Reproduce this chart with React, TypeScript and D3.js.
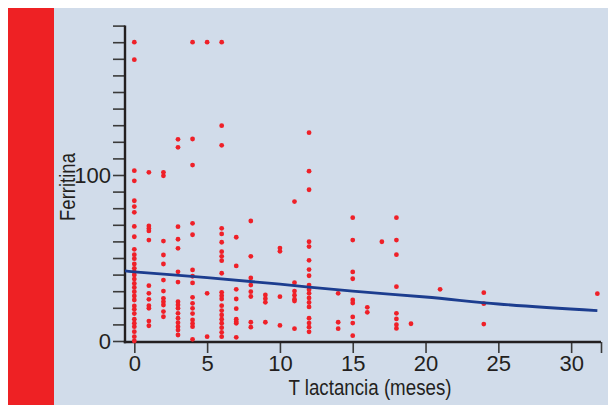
import { useEffect, useRef } from 'react'
import * as d3 from 'd3'

// months of lactation (x) and ferritin values read per column (y)
const meses = [0, 1, 2, 3, 4, 5, 6, 7, 8, 9, 10, 11, 12, 14, 15, 16, 17, 18, 19, 21, 24, 31.8]
const ferritina: number[][] = [
  [180, 169.5, 102.6, 96.5, 84.5, 81, 77.5, 69, 62.8, 55.2, 52, 49.6, 46.4, 43.8, 41.7, 39.8, 37.3, 34.7, 32.3, 29.7, 27.1, 24.7, 21.1, 19.1, 16.5, 13.1, 10.7, 8.6, 5.6, 2.6, 0],
  [101.6, 69.3, 67.7, 66.3, 60.8, 33.3, 28.7, 25.1, 21.3, 19.7, 12, 9.2],
  [101.6, 99.5, 60.2, 51.8, 46.4, 36.7, 30.1, 25.7, 23.7, 21.7, 17.7, 14.6],
  [121.5, 116.7, 68.9, 61.3, 55.8, 41.7, 35.5, 23.7, 21.7, 19.7, 16.7, 13.7, 11, 8.6, 6.6, 3.6],
  [180, 121.7, 106, 70.9, 64, 42.8, 39, 35, 26.3, 22.7, 19.7, 16.5, 12.7, 10.5, 8.6, 1],
  [180, 28.7, 2.6],
  [180, 129.7, 117.9, 67.9, 64.5, 59.5, 53.8, 51, 48.4, 40.8, 29.3, 27.3, 25.3, 21.3, 18.3, 15.7, 13.1, 10.7, 8, 5.2, 2.6],
  [62.5, 45.2, 31.1, 25.3, 19.5, 13.1, 11.6, 10.7, 2.2],
  [72.3, 51, 38, 33.7, 29.7, 26.8, 11.3, 8.3],
  [27.7, 25.5, 23.3, 11.3],
  [56, 54, 26.7, 9.4],
  [84, 35.1, 30.1, 27.6, 25.2, 24.1, 7.4],
  [125.5, 102.3, 91.1, 59.8, 56.9, 48.6, 43, 39.3, 33.7, 32.2, 30.9, 28.7, 25.9, 23.2, 20.5, 13.7, 10.8, 8.3, 5.5],
  [28.7, 11.3, 7.4],
  [74.3, 60.8, 41.6, 37.5, 24.7, 22.9, 14.5, 10.8, 3.2],
  [20.3, 17.3],
  [59.8],
  [74.3, 60.8, 52, 32.7, 16.7, 13.3, 9.8, 7.6],
  [10.4],
  [31.1],
  [29.1, 22.5, 10.2],
  [28.5],
]

// fitted curve
const ajusteX = [-0.64, 0, 5, 10, 15, 20, 25, 31.8]
const ajusteY = [42.2, 41.7, 38.2, 34.2, 30.0, 26.5, 22.3, 18.3]

const xTicks = [0, 5, 10, 15, 20, 25, 30]
const yTicks = d3.range(0, 191, 10)
const yLabels = [0, 100]

const FONT = "'Liberation Sans Narrow', 'Liberation Sans', Arial, sans-serif"
const INK = '#231f20'

export default function App() {
  const svgRef = useRef<SVGSVGElement>(null)

  useEffect(() => {
    if (!svgRef.current) return
    const svg = d3.select(svgRef.current)
    svg.selectAll('*').remove()

    const x = d3.scaleLinear().domain([-0.64, 32.05]).range([125, 601])
    const y = d3.scaleLinear().domain([0, 190]).range([341, 25.6])

    // panels
    svg.append('rect').attr('x', 0).attr('y', 0).attr('width', 608).attr('height', 405).attr('fill', '#fff')
    svg.append('rect').attr('x', 8).attr('y', 8).attr('width', 46).attr('height', 397).attr('fill', '#ee2124')
    svg.append('rect').attr('x', 54).attr('y', 8).attr('width', 554).attr('height', 397).attr('fill', '#d1dcea')

    const xAxisY = 342

    // y axis
    const gy = svg.append('g').attr('transform', `translate(${x.range()[0]},0)`)
    gy.call(
      d3
        .axisLeft(y)
        .tickValues(yTicks)
        .tickSize(12)
        .tickSizeOuter(0)
        .tickPadding(2)
        .tickFormat((d) => (yLabels.includes(+d) ? String(d) : ''))
    )
    gy.select('.domain').remove()
    gy.selectAll('line').attr('stroke', '#3a3a3a').attr('stroke-width', 1.6)
    gy.selectAll('text').attr('fill', INK).style('font-family', FONT).style('font-size', '22px').attr('dy', '0.36em')
    gy.append('line')
      .attr('x1', 0)
      .attr('x2', 0)
      .attr('y1', y(190))
      .attr('y2', xAxisY + 1.2)
      .attr('stroke', INK)
      .attr('stroke-width', 2.4)

    // x axis
    const gx = svg.append('g').attr('transform', `translate(0,${xAxisY})`)
    gx.call(d3.axisBottom(x).tickValues([...xTicks, x.domain()[1]]).tickSize(11).tickSizeOuter(0).tickPadding(2).tickFormat((d) => (xTicks.includes(+d) ? String(d) : '')))
    gx.select('.domain').remove()
    gx.selectAll('line').attr('stroke', '#3a3a3a').attr('stroke-width', 1.6)
    gx.selectAll('text').attr('fill', INK).style('font-family', FONT).style('font-size', '22px')
    gx.append('line')
      .attr('x1', x.range()[0] - 1.2)
      .attr('x2', x.range()[1])
      .attr('y1', 0)
      .attr('y2', 0)
      .attr('stroke', INK)
      .attr('stroke-width', 2.4)

    // axis titles
    svg
      .append('text')
      .attr('x', 370)
      .attr('y', 395)
      .attr('text-anchor', 'middle')
      .attr('textLength', 163)
      .attr('lengthAdjust', 'spacingAndGlyphs')
      .attr('fill', INK)
      .style('font-family', FONT)
      .style('font-size', '22px')
      .text('T lactancia (meses)')

    svg
      .append('text')
      .attr('transform', 'translate(75,187) rotate(-90)')
      .attr('text-anchor', 'middle')
      .attr('textLength', 68)
      .attr('lengthAdjust', 'spacingAndGlyphs')
      .attr('fill', INK)
      .style('font-family', FONT)
      .style('font-size', '22px')
      .text('Ferritina')

    // points
    const puntos = meses.flatMap((m, i) => ferritina[i].map((v) => ({ m, v })))
    svg
      .append('g')
      .selectAll('circle')
      .data(puntos)
      .enter()
      .append('circle')
      .attr('cx', (d) => x(d.m))
      .attr('cy', (d) => y(d.v))
      .attr('r', 2.4)
      .attr('fill', '#ef2028')

    // fitted curve
    const line = d3
      .line<number>()
      .x((_, i) => x(ajusteX[i]))
      .y((d) => y(d))
      .curve(d3.curveMonotoneX)
    svg
      .append('path')
      .attr('d', line(ajusteY))
      .attr('fill', 'none')
      .attr('stroke', '#1c3d8f')
      .attr('stroke-width', 2.8)
  }, [])

  return (
    <svg
      ref={svgRef}
      width={608}
      height={405}
      style={{ position: 'absolute', left: 0, top: 0, display: 'block' }}
    ></svg>
  )
}
